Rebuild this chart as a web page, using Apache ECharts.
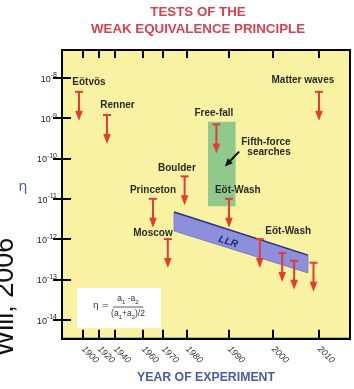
<!DOCTYPE html>
<html><head><meta charset="utf-8">
<script src="https://cdn.jsdelivr.net/npm/echarts@6/dist/echarts.min.js"></script>
<style>html,body{margin:0;padding:0;background:#fff}#c{width:354px;height:389px}</style>
</head><body><div id="c"></div>
<script>
// ---------------- data ----------------
const tickYears = [1900, 1920, 1940, 1960, 1970, 1980, 1990, 2000, 2010];
const etaTicks = [1e-14, 1e-13, 1e-12, 1e-11, 1e-10, 1e-9, 1e-8];

const expNames  = ['Eötvös', 'Renner', 'Princeton', 'Moscow', 'Boulder', 'Free-fall', 'Eöt-Wash', 'Eöt-Wash', 'Eöt-Wash', 'Eöt-Wash', 'Eöt-Wash', 'Matter waves'];
const expYears  = [1895, 1930, 1965, 1972, 1979, 1987, 1990, 1997, 2002, 2004.6, 2008.8, 2010];
const expLimits = [4.5e-9, 1.2e-9, 1e-11, 1e-12, 3.6e-11, 7e-10, 1e-11, 1e-12, 4.5e-13, 2.9e-13, 2.6e-13, 4.5e-9];

const fifthForceYears = [1985, 1991.5];
const fifthForceEta   = [8.1e-10, 6.5e-12];

const llrYears = [1974.6, 2007.6];
const llrUpper = [4.7e-12, 4.0e-13];
const llrLower = [1.6e-12, 1.45e-13];

const noteTexts = ['Eötvös', 'Renner', 'Matter waves', 'Free-fall', 'Fifth-force', 'searches', 'Boulder', 'Princeton', 'Eöt-Wash', 'Moscow', 'Eöt-Wash'];
const noteYears = [1907.5, 1941.8, 2006.5, 1986.4, 1998.4, 1999.1, 1975.8, 1965, 1992, 1965, 2003.3];
const noteEta   = [7.6e-9, 2.1e-9, 8.9e-9, 1.29e-9, 2.5e-10, 1.4e-10, 5.6e-11, 1.6e-11, 1.6e-11, 1.4e-12, 1.6e-12];

const llrLabel = {text: 'LLR', year: 1989.8, eta: 8.5e-13};
const pointerYears = [1992.3, 1989.0];
const pointerEta   = [1.48e-10, 6.3e-11];

// ---------------- layout / style ----------------
const X_TICK_UNITS = [21, 37, 53, 81, 101, 125, 167, 211, 257]; // non-linear year scale
const X_MAX = 288;
const Y_MIN = Math.pow(10, -14.469), Y_MAX = Math.pow(10, -7.309);
const RED = '#e23d33', GREEN = '#8fca8c', BLUE = '#8b8fdc', NAVY = '#2b3282';
const ARROW_LEN = 29;

function yearToUnit(y) {
  const t = tickYears, u = X_TICK_UNITS, n = t.length;
  if (y <= t[0]) return u[0] + (y - t[0]) * (u[1] - u[0]) / (t[1] - t[0]);
  if (y >= t[n - 1]) return u[n - 1] + (y - t[n - 1]) * (u[n - 1] - u[n - 2]) / (t[n - 1] - t[n - 2]);
  for (let i = 0; i < n - 1; i++) {
    if (y >= t[i] && y <= t[i + 1]) return u[i] + (y - t[i]) * (u[i + 1] - u[i]) / (t[i + 1] - t[i]);
  }
}
function unitToYear(v) {
  const i = X_TICK_UNITS.findIndex(u => Math.abs(u - v) < 1e-6);
  return i >= 0 ? String(tickYears[i]) : '';
}

const chart = echarts.init(document.getElementById('c'), null, {renderer: 'canvas'});

const tickStyle = {show: true, inside: true, length: 9, lineStyle: {color: '#000', width: 2}};
const axisLine = {show: true, lineStyle: {color: '#000', width: 2}};

const option = {
  animation: false,
  backgroundColor: '#fff',
  grid: {left: 62, right: 4, top: 50, bottom: 49, show: true, backgroundColor: '#f9f2a2', borderColor: '#000', borderWidth: 2},
  xAxis: [{
    type: 'value', min: 0, max: X_MAX, position: 'bottom',
    axisLine: axisLine, splitLine: {show: false},
    axisTick: Object.assign({}, tickStyle, {customValues: X_TICK_UNITS}),
    axisLabel: {customValues: X_TICK_UNITS, formatter: unitToYear, rotate: -45, margin: 9,
      fontSize: 9, fontStyle: 'italic', color: '#333', fontFamily: 'Liberation Sans'},
    name: 'YEAR OF EXPERIMENT', nameLocation: 'middle', nameGap: 33,
    nameTextStyle: {fontSize: 12.3, fontWeight: 'bold', color: '#4b5ba6', fontFamily: 'Liberation Sans'}
  }, {
    type: 'value', min: 0, max: X_MAX, position: 'top',
    axisLine: axisLine, splitLine: {show: false},
    axisTick: Object.assign({}, tickStyle, {length: 8, customValues: X_TICK_UNITS}),
    axisLabel: {show: false}
  }],
  yAxis: [{
    type: 'log', logBase: 10, min: Y_MIN, max: Y_MAX, position: 'left',
    axisLine: axisLine, splitLine: {show: false},
    axisTick: Object.assign({}, tickStyle, {customValues: etaTicks}),
    axisLabel: {customValues: etaTicks, margin: 5, color: '#222', fontFamily: 'Liberation Sans',
      formatter: v => '{b|10}{e|' + Math.round(Math.log10(v)) + '}',
      rich: {b: {fontSize: 9, color: '#222', fontFamily: 'Liberation Sans', padding: [3, 0, 0, 0]},
             e: {fontSize: 7, color: '#222', fontFamily: 'Liberation Sans', padding: [0, 0, 5, 0]}}}
  }, {
    type: 'log', logBase: 10, min: Y_MIN, max: Y_MAX, position: 'right',
    axisLine: axisLine, splitLine: {show: false},
    axisTick: Object.assign({}, tickStyle, {customValues: etaTicks}),
    axisLabel: {show: false}
  }],
  series: [
    { // fifth-force searches region
      type: 'custom', silent: true, z: 1,
      encode: {x: [0, 2], y: [1, 3]},
      data: [[yearToUnit(fifthForceYears[0]), fifthForceEta[0], yearToUnit(fifthForceYears[1]), fifthForceEta[1]]],
      renderItem: (params, api) => {
        const a = api.coord([api.value(0), api.value(1)]);
        const b = api.coord([api.value(2), api.value(3)]);
        return {type: 'rect', shape: {x: a[0], y: a[1], width: b[0] - a[0], height: b[1] - a[1]}, style: {fill: GREEN}};
      }
    },
    { // LLR band
      type: 'custom', silent: true, z: 2,
      encode: {x: [0, 3], y: [1, 2, 4, 5]},
      data: [[yearToUnit(llrYears[0]), llrUpper[0], llrLower[0], yearToUnit(llrYears[1]), llrUpper[1], llrLower[1]]],
      renderItem: (params, api) => {
        const tl = api.coord([api.value(0), api.value(1)]);
        const bl = api.coord([api.value(0), api.value(2)]);
        const tr = api.coord([api.value(3), api.value(4)]);
        const br = api.coord([api.value(3), api.value(5)]);
        return {type: 'group', children: [
          {type: 'polygon', shape: {points: [tl, tr, br, bl]}, style: {fill: BLUE, stroke: '#6f73c4', lineWidth: 0.8}},
          {type: 'line', shape: {x1: tl[0], y1: tl[1], x2: tr[0], y2: tr[1]}, style: {stroke: NAVY, lineWidth: 1.5}}
        ]};
      }
    },
    { // LLR label
      type: 'custom', silent: true, z: 3,
      encode: {x: 0, y: 1},
      data: [[yearToUnit(llrLabel.year), llrLabel.eta]],
      renderItem: (params, api) => {
        const p = api.coord([api.value(0), api.value(1)]);
        return {type: 'text', x: p[0], y: p[1], rotation: -0.31,
          style: {text: llrLabel.text, align: 'center', verticalAlign: 'middle', fill: '#1f2470',
                  font: 'italic bold 10px Liberation Sans'}};
      }
    },
    { // upper-limit arrows
      type: 'custom', silent: true, z: 4,
      encode: {x: 0, y: 1},
      data: expYears.map((y, i) => [yearToUnit(y), expLimits[i]]),
      renderItem: (params, api) => {
        const p = api.coord([api.value(0), api.value(1)]);
        const x = p[0], y = p[1];
        return {type: 'group', children: [
          {type: 'line', shape: {x1: x - 4, y1: y, x2: x + 4, y2: y}, style: {stroke: RED, lineWidth: 2}},
          {type: 'line', shape: {x1: x, y1: y, x2: x, y2: y + ARROW_LEN - 8}, style: {stroke: RED, lineWidth: 2}},
          {type: 'polygon', shape: {points: [[x - 3.8, y + ARROW_LEN - 10], [x + 3.8, y + ARROW_LEN - 10], [x, y + ARROW_LEN]]}, style: {fill: RED}}
        ]};
      }
    },
    { // fifth-force pointer arrow
      type: 'custom', silent: true, z: 5,
      encode: {x: [0, 2], y: [1, 3]},
      data: [[yearToUnit(pointerYears[0]), pointerEta[0], yearToUnit(pointerYears[1]), pointerEta[1]]],
      renderItem: (params, api) => {
        const a = api.coord([api.value(0), api.value(1)]);
        const b = api.coord([api.value(2), api.value(3)]);
        const dx = b[0] - a[0], dy = b[1] - a[1], L = Math.hypot(dx, dy);
        const ux = dx / L, uy = dy / L, hx = b[0] - ux * 8, hy = b[1] - uy * 8;
        return {type: 'group', children: [
          {type: 'line', shape: {x1: a[0], y1: a[1], x2: hx, y2: hy}, style: {stroke: '#111', lineWidth: 2}},
          {type: 'polygon', shape: {points: [[hx - uy * 3.5, hy + ux * 3.5], [hx + uy * 3.5, hy - ux * 3.5], b]}, style: {fill: '#111'}}
        ]};
      }
    },
    { // text annotations
      type: 'custom', silent: true, z: 6,
      encode: {x: 0, y: 1},
      data: noteYears.map((y, i) => [yearToUnit(y), noteEta[i]]),
      renderItem: (params, api) => {
        const p = api.coord([api.value(0), api.value(1)]);
        return {type: 'text', x: p[0], y: p[1],
          style: {text: noteTexts[params.dataIndex], align: 'center', verticalAlign: 'middle',
                  fill: '#2a2a2a', font: 'bold 10px Liberation Sans'}};
      }
    }
  ],
  graphic: [
    {type: 'text', x: 198, y: 12.5, style: {text: 'TESTS OF THE', align: 'center', verticalAlign: 'middle', fill: '#d5434f', font: 'bold 13.3px Liberation Sans'}},
    {type: 'text', x: 198, y: 29, style: {text: 'WEAK EQUIVALENCE PRINCIPLE', align: 'center', verticalAlign: 'middle', fill: '#d5434f', font: 'bold 13.3px Liberation Sans'}},
    {type: 'text', x: 23, y: 187, style: {text: 'η', align: 'center', verticalAlign: 'middle', fill: '#4b5ba6', font: '14px DejaVu Sans'}},
    {type: 'text', x: 6, y: 297, rotation: Math.PI / 2, style: {text: 'Will, 2006', align: 'center', verticalAlign: 'middle', fill: '#111', font: '27px Liberation Sans'}},
    {type: 'rect', shape: {x: 77, y: 288, width: 84, height: 40}, style: {fill: '#fff'}, z: 10},
    {type: 'text', x: 101, y: 306, z: 11, style: {text: 'η =', align: 'center', verticalAlign: 'middle', fill: '#333', font: '9px DejaVu Sans'}},
    {type: 'text', x: 128, y: 300, z: 11, style: {text: '{a|a}{s|1}{a| -a}{s|2}', align: 'center', verticalAlign: 'middle',
      rich: {a: {fontSize: 8.5, fill: '#333', fontFamily: 'Liberation Sans', padding: [0, 0, 2, 0]}, s: {fontSize: 6, fill: '#333', fontFamily: 'Liberation Sans', padding: [4, 0, 0, 0]}}}},
    {type: 'line', z: 11, shape: {x1: 113, y1: 307, x2: 143, y2: 307}, style: {stroke: '#333', lineWidth: 0.8}},
    {type: 'text', x: 128, y: 315, z: 11, style: {text: '{a|(a}{s|1}{a|+a}{s|2}{a|)/2}', align: 'center', verticalAlign: 'middle',
      rich: {a: {fontSize: 8.5, fill: '#333', fontFamily: 'Liberation Sans', padding: [0, 0, 2, 0]}, s: {fontSize: 6, fill: '#333', fontFamily: 'Liberation Sans', padding: [4, 0, 0, 0]}}}}
  ]
};
chart.setOption(option);
</script>
</body></html>
